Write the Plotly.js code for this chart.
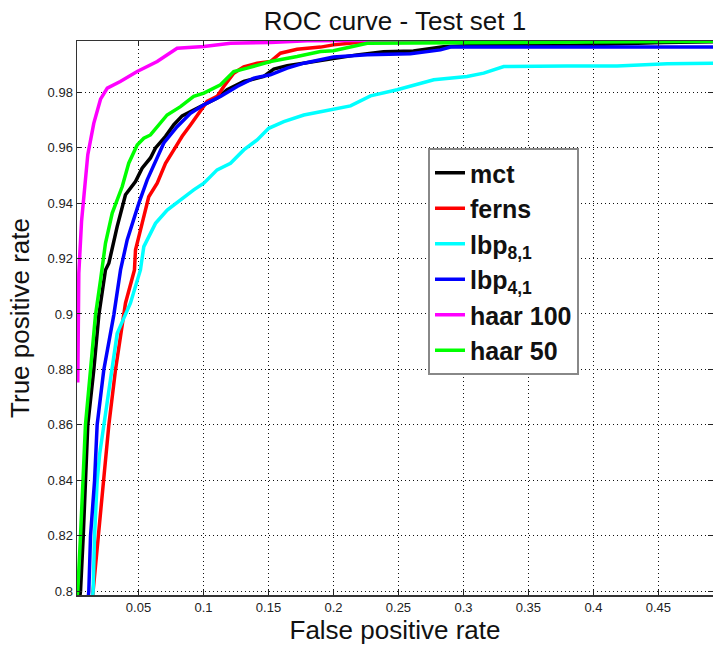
<!DOCTYPE html>
<html>
<head>
<meta charset="utf-8">
<script src="https://cdn.plot.ly/plotly-3.0.1.min.js"></script>
<style>html,body{margin:0;padding:0;background:#fff;}#chart{width:713px;height:645px;}</style>
</head>
<body>
<div id="chart"></div>
<script>
// ---- data ----
const seriesNames = ["mct", "ferns", "lbp<sub>8,1</sub>", "lbp<sub>4,1</sub>", "haar 100", "haar 50"];
const seriesColors = ["#000000", "#ff0000", "#00ffff", "#0000ff", "#ff00ff", "#00ff00"];

const mctX = [0.0050,0.0054,0.0075,0.0092,0.0110,0.0156,0.0195,0.0246,0.0272,0.0336,0.0400,0.0477,0.0528,0.0592,0.0631,0.0708,0.0772,0.0836,0.0925,0.1003,0.1105,0.1182,0.1310,0.1464,0.1541,0.1644,0.1772,0.1900,0.2182,0.2385,0.2615,0.2846,0.3028,0.3823,0.4538,0.4950];
const mctY = [0.7985,0.8000,0.8199,0.8398,0.8600,0.8798,0.8996,0.9159,0.9183,0.9315,0.9430,0.9478,0.9526,0.9563,0.9599,0.9641,0.9683,0.9715,0.9736,0.9755,0.9779,0.9809,0.9839,0.9857,0.9884,0.9896,0.9905,0.9917,0.9935,0.9946,0.9949,0.9964,0.9968,0.9970,0.9980,0.9982];

const fernsX = [0.0148,0.0151,0.0187,0.0233,0.0272,0.0323,0.0362,0.0400,0.0469,0.0477,0.0528,0.0579,0.0644,0.0708,0.0772,0.0836,0.0900,0.0977,0.1028,0.1105,0.1156,0.1233,0.1310,0.1413,0.1515,0.1592,0.1720,0.1900,0.2000,0.2182,0.2600,0.3500,0.4950];
const fernsY = [0.7985,0.8000,0.8199,0.8398,0.8600,0.8798,0.8930,0.9039,0.9159,0.9231,0.9327,0.9423,0.9472,0.9544,0.9592,0.9641,0.9682,0.9736,0.9767,0.9785,0.9821,0.9869,0.9892,0.9905,0.9911,0.9941,0.9955,0.9963,0.9971,0.9980,0.9984,0.9985,0.9986];

const lbp81X = [0.0148,0.0151,0.0162,0.0182,0.0202,0.0233,0.0298,0.0336,0.0438,0.0515,0.0541,0.0631,0.0721,0.0823,0.0925,0.1003,0.1105,0.1208,0.1310,0.1413,0.1502,0.1618,0.1772,0.1900,0.2000,0.2131,0.2285,0.2490,0.2772,0.3028,0.3156,0.3310,0.3797,0.4182,0.4567,0.4950];
const lbp81Y = [0.7985,0.8000,0.8199,0.8398,0.8497,0.8600,0.8798,0.8930,0.9039,0.9159,0.9243,0.9327,0.9375,0.9412,0.9448,0.9472,0.9520,0.9544,0.9592,0.9628,0.9670,0.9694,0.9718,0.9730,0.9739,0.9751,0.9787,0.9809,0.9845,0.9857,0.9869,0.9893,0.9895,0.9895,0.9903,0.9905];

const lbp41X = [0.0115,0.0118,0.0131,0.0162,0.0182,0.0233,0.0310,0.0362,0.0413,0.0503,0.0567,0.0631,0.0695,0.0797,0.0900,0.1003,0.1131,0.1259,0.1387,0.1515,0.1644,0.1772,0.1900,0.2000,0.2260,0.2592,0.2823,0.2900,0.3923,0.4950];
const lbp41Y = [0.7985,0.8000,0.8199,0.8398,0.8600,0.8798,0.8996,0.9159,0.9267,0.9400,0.9484,0.9550,0.9617,0.9676,0.9724,0.9755,0.9785,0.9821,0.9851,0.9863,0.9887,0.9905,0.9919,0.9927,0.9935,0.9939,0.9953,0.9963,0.9963,0.9963];

const haar100X = [0.0033,0.0041,0.0062,0.0110,0.0156,0.0208,0.0260,0.0360,0.0490,0.0644,0.0797,0.1003,0.1208,0.1515,0.1800,0.2500,0.4950];
const haar100Y = [0.8753,0.9147,0.9334,0.9575,0.9688,0.9775,0.9815,0.9839,0.9875,0.9911,0.9959,0.9965,0.9977,0.9980,0.9986,0.9988,0.9990];

const haar50X = [0.0030,0.0033,0.0054,0.0075,0.0092,0.0131,0.0169,0.0208,0.0246,0.0298,0.0375,0.0425,0.0490,0.0541,0.0592,0.0720,0.0823,0.0925,0.1003,0.1131,0.1233,0.1336,0.1515,0.1720,0.1900,0.2000,0.2208,0.2260,0.3410,0.4950];
const haar50Y = [0.7985,0.8000,0.8199,0.8398,0.8600,0.8798,0.8996,0.9123,0.9255,0.9364,0.9460,0.9544,0.9610,0.9634,0.9646,0.9718,0.9748,0.9785,0.9797,0.9827,0.9875,0.9887,0.9911,0.9929,0.9947,0.9950,0.9971,0.9977,0.9980,0.9984];

const xTickStep = 0.05;
const yTickStep = 0.02;
const xRange = [0.0027, 0.492];
const yRange = [0.7986, 0.9985];

const allX = [mctX, fernsX, lbp81X, lbp41X, haar100X, haar50X];
const allY = [mctY, fernsY, lbp81Y, lbp41Y, haar100Y, haar50Y];

const FONT = "Liberation Sans, Arial, Helvetica, sans-serif";

const traces = seriesNames.map((n, i) => ({
  type: "scatter",
  mode: "lines",
  name: n,
  x: allX[i],
  y: allY[i],
  line: {color: seriesColors[i], width: 3.5},
  cliponaxis: true
}));

const axisCommon = {
  showgrid: true,
  gridcolor: "#111",
  griddash: "1px,3px",
  gridwidth: 1,
  showline: true,
  linecolor: "#333",
  linewidth: 1.5,
  mirror: "ticks",
  ticks: "inside",
  ticklen: 5,
  tickcolor: "#222",
  tickwidth: 1,
  zeroline: false,
  tickfont: {family: FONT, size: 13, color: "#222"}
};

const layout = {
  width: 713,
  height: 645,
  paper_bgcolor: "#fff",
  plot_bgcolor: "#fff",
  margin: {l: 77, r: 0, t: 41, b: 50, pad: 0},
  showlegend: true,
  title: {
    text: "ROC curve - Test set 1",
    font: {family: FONT, size: 26, color: "#111"},
    x: 0.5, xref: "paper",
    y: 1 - 21/645, yref: "container", yanchor: "middle"
  },
  xaxis: Object.assign({}, axisCommon, {
    range: xRange,
    tick0: 0, dtick: xTickStep,
    title: {text: "False positive rate", font: {family: FONT, size: 26, color: "#111"}, standoff: 5}
  }),
  yaxis: Object.assign({}, axisCommon, {
    range: yRange,
    tick0: 0.8, dtick: yTickStep,
    title: {text: "True positive rate", font: {family: FONT, size: 26, color: "#111"}, standoff: 10}
  }),
  legend: {
    x: (428 - 77) / 636, y: (595 - 148) / 554,
    xanchor: "left", yanchor: "top",
    bgcolor: "#fff",
    bordercolor: "#888",
    borderwidth: 2,
    font: {family: FONT, size: 25, color: "#111", weight: "bold"},
    tracegroupgap: 0
  }
};

Plotly.newPlot("chart", traces, layout, {displayModeBar: false, staticPlot: true});
</script>
</body>
</html>
